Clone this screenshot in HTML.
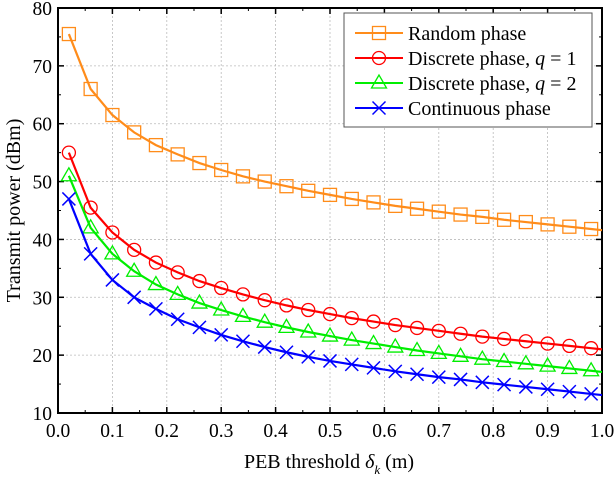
<!DOCTYPE html>
<html><head><meta charset="utf-8"><style>
body{margin:0;background:#fff}
svg, svg text, svg tspan{font-family:"Liberation Serif","Times New Roman",serif !important;}
svg text{fill:#000}
</style></head><body>
<svg id="c" width="614" height="482" xmlns="http://www.w3.org/2000/svg" font-family="Liberation Serif, serif"></svg>
<script>
const xs=[0.02,0.06,0.10,0.14,0.18,0.22,0.26,0.30,0.34,0.38,0.42,0.46,0.50,0.54,0.58,0.62,0.66,0.70,0.74,0.78,0.82,0.86,0.90,0.94,0.98];
const randomPhase=[75.5,66,61.5,58.5,56.3,54.7,53.2,52,50.9,50,49.2,48.4,47.7,47,46.4,45.8,45.3,44.8,44.3,43.9,43.4,43,42.6,42.2,41.8];
const discreteQ1=[55,45.5,41.2,38.2,36,34.3,32.8,31.6,30.5,29.5,28.6,27.8,27.1,26.4,25.8,25.2,24.7,24.2,23.7,23.2,22.8,22.4,22,21.6,21.2];
const discreteQ2=[51,42,37.5,34.5,32.2,30.5,29,27.8,26.7,25.7,24.8,24,23.3,22.6,22,21.4,20.8,20.3,19.8,19.3,18.9,18.5,18.1,17.7,17.3];
const continuous=[47,37.5,33,30,28,26.2,24.8,23.5,22.4,21.4,20.5,19.7,19,18.4,17.8,17.2,16.7,16.2,15.8,15.3,14.9,14.5,14.1,13.7,13.3];
const xTicks=["0.0","0.1","0.2","0.3","0.4","0.5","0.6","0.7","0.8","0.9","1.0"];
const yTicks=[10,20,30,40,50,60,70,80];
const L=58,R=602,T=8,B=413;
const X=v=>L+v*(R-L), Y=v=>B-(v-10)/70*(B-T);
const svg=document.getElementById('c');const NS='http://www.w3.org/2000/svg';
const FF='Liberation Serif, serif';
function mk(t,a,p){const e=document.createElementNS(NS,t);for(const k in a)e.setAttribute(k,a[k]);if(t==='text')e.setAttribute('font-family',FF);(p||svg).appendChild(e);return e;}
xTicks.forEach((t,i)=>{const x=X(i/10);
 if(i>0&&i<10){const g=mk('line',{x1:x,x2:x,y1:T,y2:B,stroke:'#bbb','stroke-dasharray':'2,2','stroke-width':0.8});
 }
 mk('line',{x1:x,x2:x,y1:B,y2:B-6,stroke:'#000','stroke-width':1.5});mk('line',{x1:x,x2:x,y1:T,y2:T+6,stroke:'#000','stroke-width':1.5});
 if(i<10){const xm=X(i/10+0.05);mk('line',{x1:xm,x2:xm,y1:B,y2:B-3,stroke:'#000'});mk('line',{x1:xm,x2:xm,y1:T,y2:T+3,stroke:'#000'});}
 const tx=mk('text',{x:x,y:B+24,'text-anchor':'middle','font-size':19.5});tx.textContent=t;
 });
yTicks.forEach((v,i)=>{const y=Y(v);
 if(v>10&&v<80){const g=mk('line',{x1:L,x2:R,y1:y,y2:y,stroke:'#bbb','stroke-dasharray':'2,2','stroke-width':0.8});
 }
 mk('line',{x1:L,x2:L+6,y1:y,y2:y,stroke:'#000','stroke-width':1.5});mk('line',{x1:R,x2:R-6,y1:y,y2:y,stroke:'#000','stroke-width':1.5});
 if(v<80){const ym=Y(v+5);mk('line',{x1:L,x2:L+3,y1:ym,y2:ym,stroke:'#000'});mk('line',{x1:R,x2:R-3,y1:ym,y2:ym,stroke:'#000'});}
 const tx=mk('text',{x:L-6,y:y+7,'text-anchor':'end','font-size':19.5});tx.textContent=v;
 });
const fr=mk('rect',{x:L,y:T,width:R-L,height:B-T,fill:'none',stroke:'#000','stroke-width':2});

function marker(g,type,x,y,c){
 if(type==='s')mk('rect',{x:x-6.5,y:y-6.5,width:13,height:13,fill:'none',stroke:c,'stroke-width':1.3},g);
 else if(type==='o')mk('circle',{cx:x,cy:y,r:6.5,fill:'none',stroke:c,'stroke-width':1.3},g);
 else if(type==='t')mk('polygon',{points:`${x},${y-8} ${x-7.5},${y+5} ${x+7.5},${y+5}`,fill:'none',stroke:c,'stroke-width':1.3},g);
 else {mk('line',{x1:x-6.5,y1:y-6.5,x2:x+6.5,y2:y+6.5,stroke:c,'stroke-width':1.5},g);mk('line',{x1:x-6.5,y1:y+6.5,x2:x+6.5,y2:y-6.5,stroke:c,'stroke-width':1.5},g);}
}
const series=[[randomPhase,'#ff8c1a','s','series-random-phase','Random phase'],[discreteQ1,'#ff0000','o','series-discrete-q1','Discrete phase, <tspan font-style="italic">q</tspan> = 1'],[discreteQ2,'#00ee00','t','series-discrete-q2','Discrete phase, <tspan font-style="italic">q</tspan> = 2'],[continuous,'#0000ff','x','series-continuous','Continuous phase']];
series.forEach(s=>{const g=mk('g',{});
 mk('polyline',{points:xs.map((x,i)=>X(x)+','+Y(s[0][i])).join(' ')+' '+X(1)+','+Y(s[0][24]-0.2),fill:'none',stroke:s[1],'stroke-width':2.2},g);
 xs.forEach((x,i)=>marker(g,s[2],X(x),Y(s[0][i]),s[1]));});
const lg=mk('g',{});
mk('rect',{x:344,y:13,width:248,height:114,fill:'#fff',stroke:'#555','stroke-width':1},lg);
series.forEach((s,i)=>{const y=33+i*25;const e=mk('g',{},lg);
 mk('line',{x1:355,x2:403,y1:y,y2:y,stroke:s[1],'stroke-width':2},e);marker(e,s[2],379,y,s[1]);
 const t=mk('text',{x:408,y:y+7,'font-size':20},e);t.innerHTML=s[4];});
const xt=mk('text',{x:329,y:468,'text-anchor':'middle','font-size':20});xt.innerHTML='PEB threshold <tspan font-style="italic">δ</tspan><tspan font-style="italic" font-size="13" dy="6">k</tspan><tspan dy="-6"> (m)</tspan>';

const yt=mk('text',{x:0,y:0,'text-anchor':'middle','font-size':20,transform:`translate(20,${(T+B)/2}) rotate(-90)`});yt.textContent='Transmit power (dBm)';

</script></body></html>
